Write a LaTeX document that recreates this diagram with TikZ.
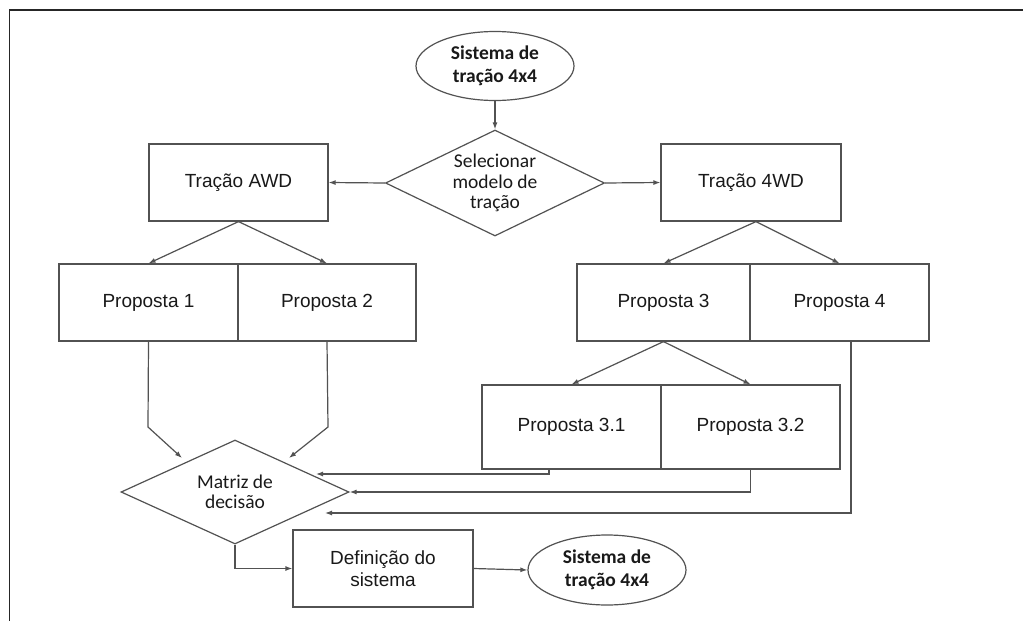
\documentclass[tikz,border=0pt]{standalone}
\usepackage{fontspec}
\setmainfont{Liberation Sans}
\newfontfamily\calfont{Carlito}
\usetikzlibrary{shapes.geometric,arrows.meta,calc}
\definecolor{lin}{gray}{0.32}
\definecolor{txt}{gray}{0.1}
\tikzset{
  box/.style={draw=lin,line width=1.2pt,rectangle,minimum width=179pt,minimum height=77pt,inner sep=0pt,
     font=\fontsize{19}{22}\selectfont,text=txt,align=center},
  term/.style={draw=lin,line width=1.2pt,ellipse,minimum width=158pt,minimum height=69pt,inner sep=0pt,
     font=\calfont\bfseries\fontsize{19.5}{23}\selectfont,text=txt,align=center},
  decide/.style={draw=lin,line width=1.2pt,diamond,inner sep=0pt},
  dtext/.style={font=\calfont\fontsize{19.5}{20.5}\selectfont,text=txt,align=center},
  conn/.style={draw=lin,line width=1.2pt,-{Latex[length=7pt,width=5pt]}},
  plain/.style={draw=lin,line width=1.2pt}
}
\begin{document}
\begin{tikzpicture}[x=1pt,y=-1pt]
\useasboundingbox (0,0) rectangle (1023,621);
\fill[white] (0,0) rectangle (1023,621);
% frame
\draw[line width=1.6pt,black!85] (9.5,621) -- (9.5,10) -- (1023,10);

% nodes
\node[term] (top) at (495,66) {Sistema de\\tração 4x4};
\node[decide,minimum width=219pt,minimum height=106pt,
  label={[dtext]center:Selecionar\\modelo de\\tração}] (sel) at (495,183) {};
\node[box] (awd) at (238.5,182.5) {Tração AWD};
\node[box,minimum width=180pt] (fwd) at (751,182.5) {Tração 4WD};
\node[box] (p1) at (148.5,302.5) {Proposta 1};
\node[box,minimum width=178pt] (p2) at (327,302.5) {Proposta 2};
\node[box,minimum width=173pt] (p3) at (663.5,302.5) {Proposta 3};
\node[box] (p4) at (839.5,302.5) {Proposta 4};
\node[box,minimum height=84pt] (p31) at (571.5,427) {Proposta 3.1};
\node[box,minimum height=84pt] (p32) at (750.5,427) {Proposta 3.2};
\node[decide,minimum width=228pt,minimum height=104pt,
  label={[dtext]center:Matriz de\\decisão}] (mat) at (235,492) {};
\node[box,minimum width=180pt] (def) at (383,568.5) {Definição do\\sistema};
\node[term,minimum height=70pt] (bot) at (607,570) {Sistema de\\tração 4x4};

% helper coordinates
\coordinate (k1) at (148,427);
\coordinate (m1) at (182,458);
\coordinate (k2) at (328,427);
\coordinate (m2) at (289,458);
\coordinate (s31) at (549,469);
\coordinate (e1) at (316,474);
\coordinate (s4) at (851,341);
\coordinate (e3) at (325,513);

% connectors
\draw[conn] (top.south) -- (sel.north);
\draw[conn] (sel.west) -- (awd.east);
\draw[conn] (sel.east) -- (fwd.west);
\draw[conn] (awd.south) -- (p1.north);
\draw[conn] (awd.south) -- (p2.north);
\draw[conn] ($(fwd.south)+(5,0)$) -- (p3.north);
\draw[conn] ($(fwd.south)+(5,0)$) -- (p4.north);
\draw[conn] (p3.south) -- (p31.north);
\draw[conn] (p3.south) -- (p32.north);
\draw[conn] (p1.south) -- (k1) -- (m1);
\draw[conn] (p2.south) -- (k2) -- (m2);
\draw[conn] (s31) |- (e1);
\draw[conn] (p32.south) |- (mat.east);
\draw[conn] (s4) |- (e3);
\draw[conn] (mat.south) |- (def.west);
\draw[conn] (def.east) -- (bot.west);
\end{tikzpicture}
\end{document}
